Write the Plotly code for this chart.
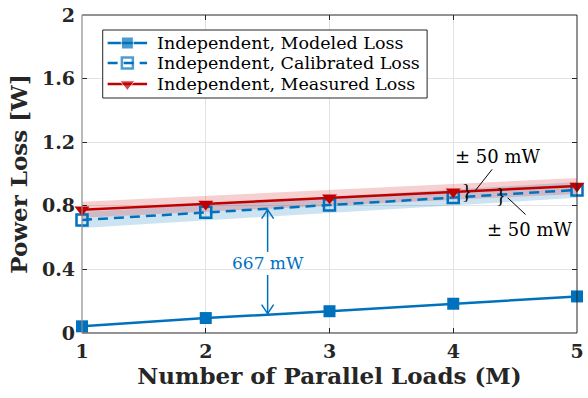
import numpy as np
import plotly.graph_objects as go

# Number of parallel loads
loads = [1, 2, 3, 4, 5]
# Power loss [W] for each strategy
modeled_loss = [0.042, 0.094, 0.137, 0.184, 0.230]
calibrated_loss = [0.711, 0.760, 0.805, 0.852, 0.900]
measured_loss = [0.775, 0.812, 0.850, 0.888, 0.925]
# Measurement uncertainty band [W]
uncertainty = 0.05

series_names = ["Independent, Modeled Loss", "Independent, Calibrated Loss",
                "Independent, Measured Loss"]

y_tick_vals = [0, 0.4, 0.8, 1.2, 1.6, 2]
y_tick_text = ["0", "0.4", "0.8", "1.2", "1.6", "2"]
x_tick_vals = [1, 2, 3, 4, 5]
x_tick_text = ["1", "2", "3", "4", "5"]

BLUE = "#0072BD"
RED = "#C00000"
FONT = "DejaVu Serif"
DARK = "#262626"

# Plot area in pixels (left, right, top, bottom)
PL, PR, PT, PB = 82, 584, 15, 333
W, H = 588, 398

styles = [
    dict(line=dict(color=BLUE, width=2.5),
         marker=dict(symbol="square", size=12, color=BLUE)),
    dict(line=dict(color=BLUE, width=2.5, dash="10px,6px"),
         marker=dict(symbol="square-open", size=11, color=BLUE, line=dict(width=2.5, color=BLUE))),
    dict(line=dict(color=RED, width=2.5),
         marker=dict(symbol="triangle-down", size=13, color=RED)),
]

fig = go.Figure()


def band(values, color):
    x = np.array(loads, dtype=float)
    v = np.array(values, dtype=float)
    xs = np.concatenate([x, x[::-1]])
    ys = np.concatenate([v + uncertainty, (v - uncertainty)[::-1]])
    return go.Scatter(x=xs, y=ys, fill="toself", fillcolor=color, mode="lines",
                      line=dict(width=0), hoverinfo="skip", showlegend=False)


fig.add_trace(band(calibrated_loss, "rgba(0,114,189,0.20)"))
fig.add_trace(band(measured_loss, "rgba(215,40,40,0.22)"))

for name, values, st in zip(series_names, [modeled_loss, calibrated_loss, measured_loss], styles):
    fig.add_trace(go.Scatter(x=loads, y=values, name=name, mode="lines+markers",
                             line=st["line"], marker=st["marker"], cliponaxis=False,
                             showlegend=False))

# Gap between calibrated and modeled loss at M = 2.5
xg = 2.5
top = float(np.interp(xg, loads, calibrated_loss))
bottom = float(np.interp(xg, loads, modeled_loss))
gap_mw = round((top - bottom) * 1000)
label_y = 0.44

shapes = []
shapes.append(dict(type="line", xref="x", yref="y", x0=xg, x1=xg, y0=label_y + 0.07, y1=top - 0.005,
                   line=dict(color=BLUE, width=1.5)))
shapes.append(dict(type="line", xref="x", yref="y", x0=xg, x1=xg, y0=label_y - 0.075, y1=bottom + 0.005,
                   line=dict(color=BLUE, width=1.5)))
for tip, sgn in ((top, 1), (bottom, -1)):
    for side in (-1, 1):
        shapes.append(dict(type="line", xref="x", yref="y",
                           xsizemode="pixel", xanchor=xg, x0=side * 6, x1=0,
                           ysizemode="pixel", yanchor=tip, y0=-sgn * 10, y1=-sgn * 1,
                           line=dict(color=BLUE, width=1.5)))

# Uncertainty call-outs
bx_upper, bx_lower = 4.11, 4.385
by_upper = float(np.interp(bx_upper, loads, measured_loss))
by_lower = float(np.interp(bx_lower, loads, calibrated_loss))
shapes.append(dict(type="line", xref="x", yref="y", x0=4.18, y0=by_upper + 0.005, x1=4.315, y1=1.03,
                   line=dict(color="black", width=1)))
shapes.append(dict(type="line", xref="x", yref="y", x0=4.44, y0=by_lower - 0.02, x1=4.585, y1=0.745,
                   line=dict(color="black", width=1)))

# Axes box: grey left edge, dark remaining edges
for x0, x1, y0, y1, col, w in ((0, 1, 1, 1, DARK, 1), (1, 1, 0, 1, DARK, 1),
                               (0, 1, 0, 0, DARK, 1), (0, 0, 0, 1, "#8c8c8c", 1.2)):
    shapes.append(dict(type="line", xref="paper", yref="paper", x0=x0, x1=x1, y0=y0, y1=y1,
                       line=dict(color=col, width=w)))

# Legend (drawn on a pixel-space overlay axis)
LEG_L, LEG_R, LEG_T, LEG_B = 103, 432, 30, 98
legend_rows = [43, 63, 84]
fig.add_trace(go.Scatter(x=[LEG_L, LEG_R, LEG_R, LEG_L, LEG_L], y=[LEG_T, LEG_T, LEG_B, LEG_B, LEG_T],
                         xaxis="x2", yaxis="y2", mode="lines", fill="toself", fillcolor="white",
                         line=dict(color=DARK, width=1), showlegend=False, hoverinfo="skip"))

for row, st in zip(legend_rows, styles):
    mk = dict(st["marker"])
    mk["size"] = [0, mk["size"], 0]
    fig.add_trace(go.Scatter(x=[LEG_L + 5, LEG_L + 25, LEG_L + 45], y=[row, row, row],
                             xaxis="x2", yaxis="y2", mode="lines+markers",
                             line=st["line"], marker=mk, showlegend=False,
                             hoverinfo="skip", cliponaxis=False))

annotations = [
    dict(x=xg, y=label_y, xref="x", yref="y", text=f"{gap_mw} mW", showarrow=False,
         font=dict(family=FONT, size=17, color=BLUE)),
    dict(x=bx_upper, y=by_upper, xref="x", yref="y", text="}", showarrow=False,
         font=dict(family="Liberation Serif", size=20, color="black")),
    dict(x=bx_lower, y=by_lower, xref="x", yref="y", text="}", showarrow=False,
         font=dict(family="Liberation Serif", size=20, color="black")),
    dict(x=4.355, y=1.107, xref="x", yref="y", text="± 50 mW", showarrow=False,
         font=dict(family=FONT, size=18, color="black")),
    dict(x=4.62, y=0.648, xref="x", yref="y", text="± 50 mW", showarrow=False,
         font=dict(family=FONT, size=18, color="black")),
]
for row, name in zip(legend_rows, series_names):
    annotations.append(dict(x=LEG_L + 53, y=row, xref="x2", yref="y2", text=name,
                            showarrow=False, xanchor="left", yanchor="middle",
                            font=dict(family=FONT, size=17.5, color="black")))

fig.update_layout(
    width=W, height=H,
    margin=dict(l=PL, r=W - PR, t=PT, b=H - PB),
    paper_bgcolor="white", plot_bgcolor="white",
    font=dict(family=FONT, color=DARK),
    shapes=shapes, annotations=annotations,
    showlegend=False,
    xaxis=dict(range=[1, 5], tickvals=x_tick_vals, ticktext=x_tick_text,
               showgrid=True, gridcolor="#e3e3e3", gridwidth=1,
               ticks="inside", ticklen=5, tickcolor=DARK, mirror="ticks",
               showline=False, zeroline=False, ticklabeloverflow="allow",
               ticklabelstandoff=5,
               tickfont=dict(family=FONT, size=19, color=DARK, weight="bold"),
               title=dict(text="<b>Number of Parallel Loads (M)</b>", standoff=5,
                          font=dict(family=FONT, size=23, color=DARK))),
    yaxis=dict(range=[0, 2], tickvals=y_tick_vals, ticktext=y_tick_text,
               showgrid=True, gridcolor="#e3e3e3", gridwidth=1,
               ticks="inside", ticklen=5, tickcolor=DARK, mirror="ticks",
               showline=False, zeroline=False, ticklabeloverflow="allow",
               ticklabelstandoff=6,
               tickfont=dict(family=FONT, size=19, color=DARK, weight="bold"),
               title=dict(text="<b>Power Loss [W]</b>", standoff=7,
                          font=dict(family=FONT, size=23, color=DARK))),
    xaxis2=dict(overlaying="x", range=[PL, PR], visible=False, fixedrange=True),
    yaxis2=dict(overlaying="y", range=[PB, PT], visible=False, fixedrange=True),
)

fig.write_html("out.html")
